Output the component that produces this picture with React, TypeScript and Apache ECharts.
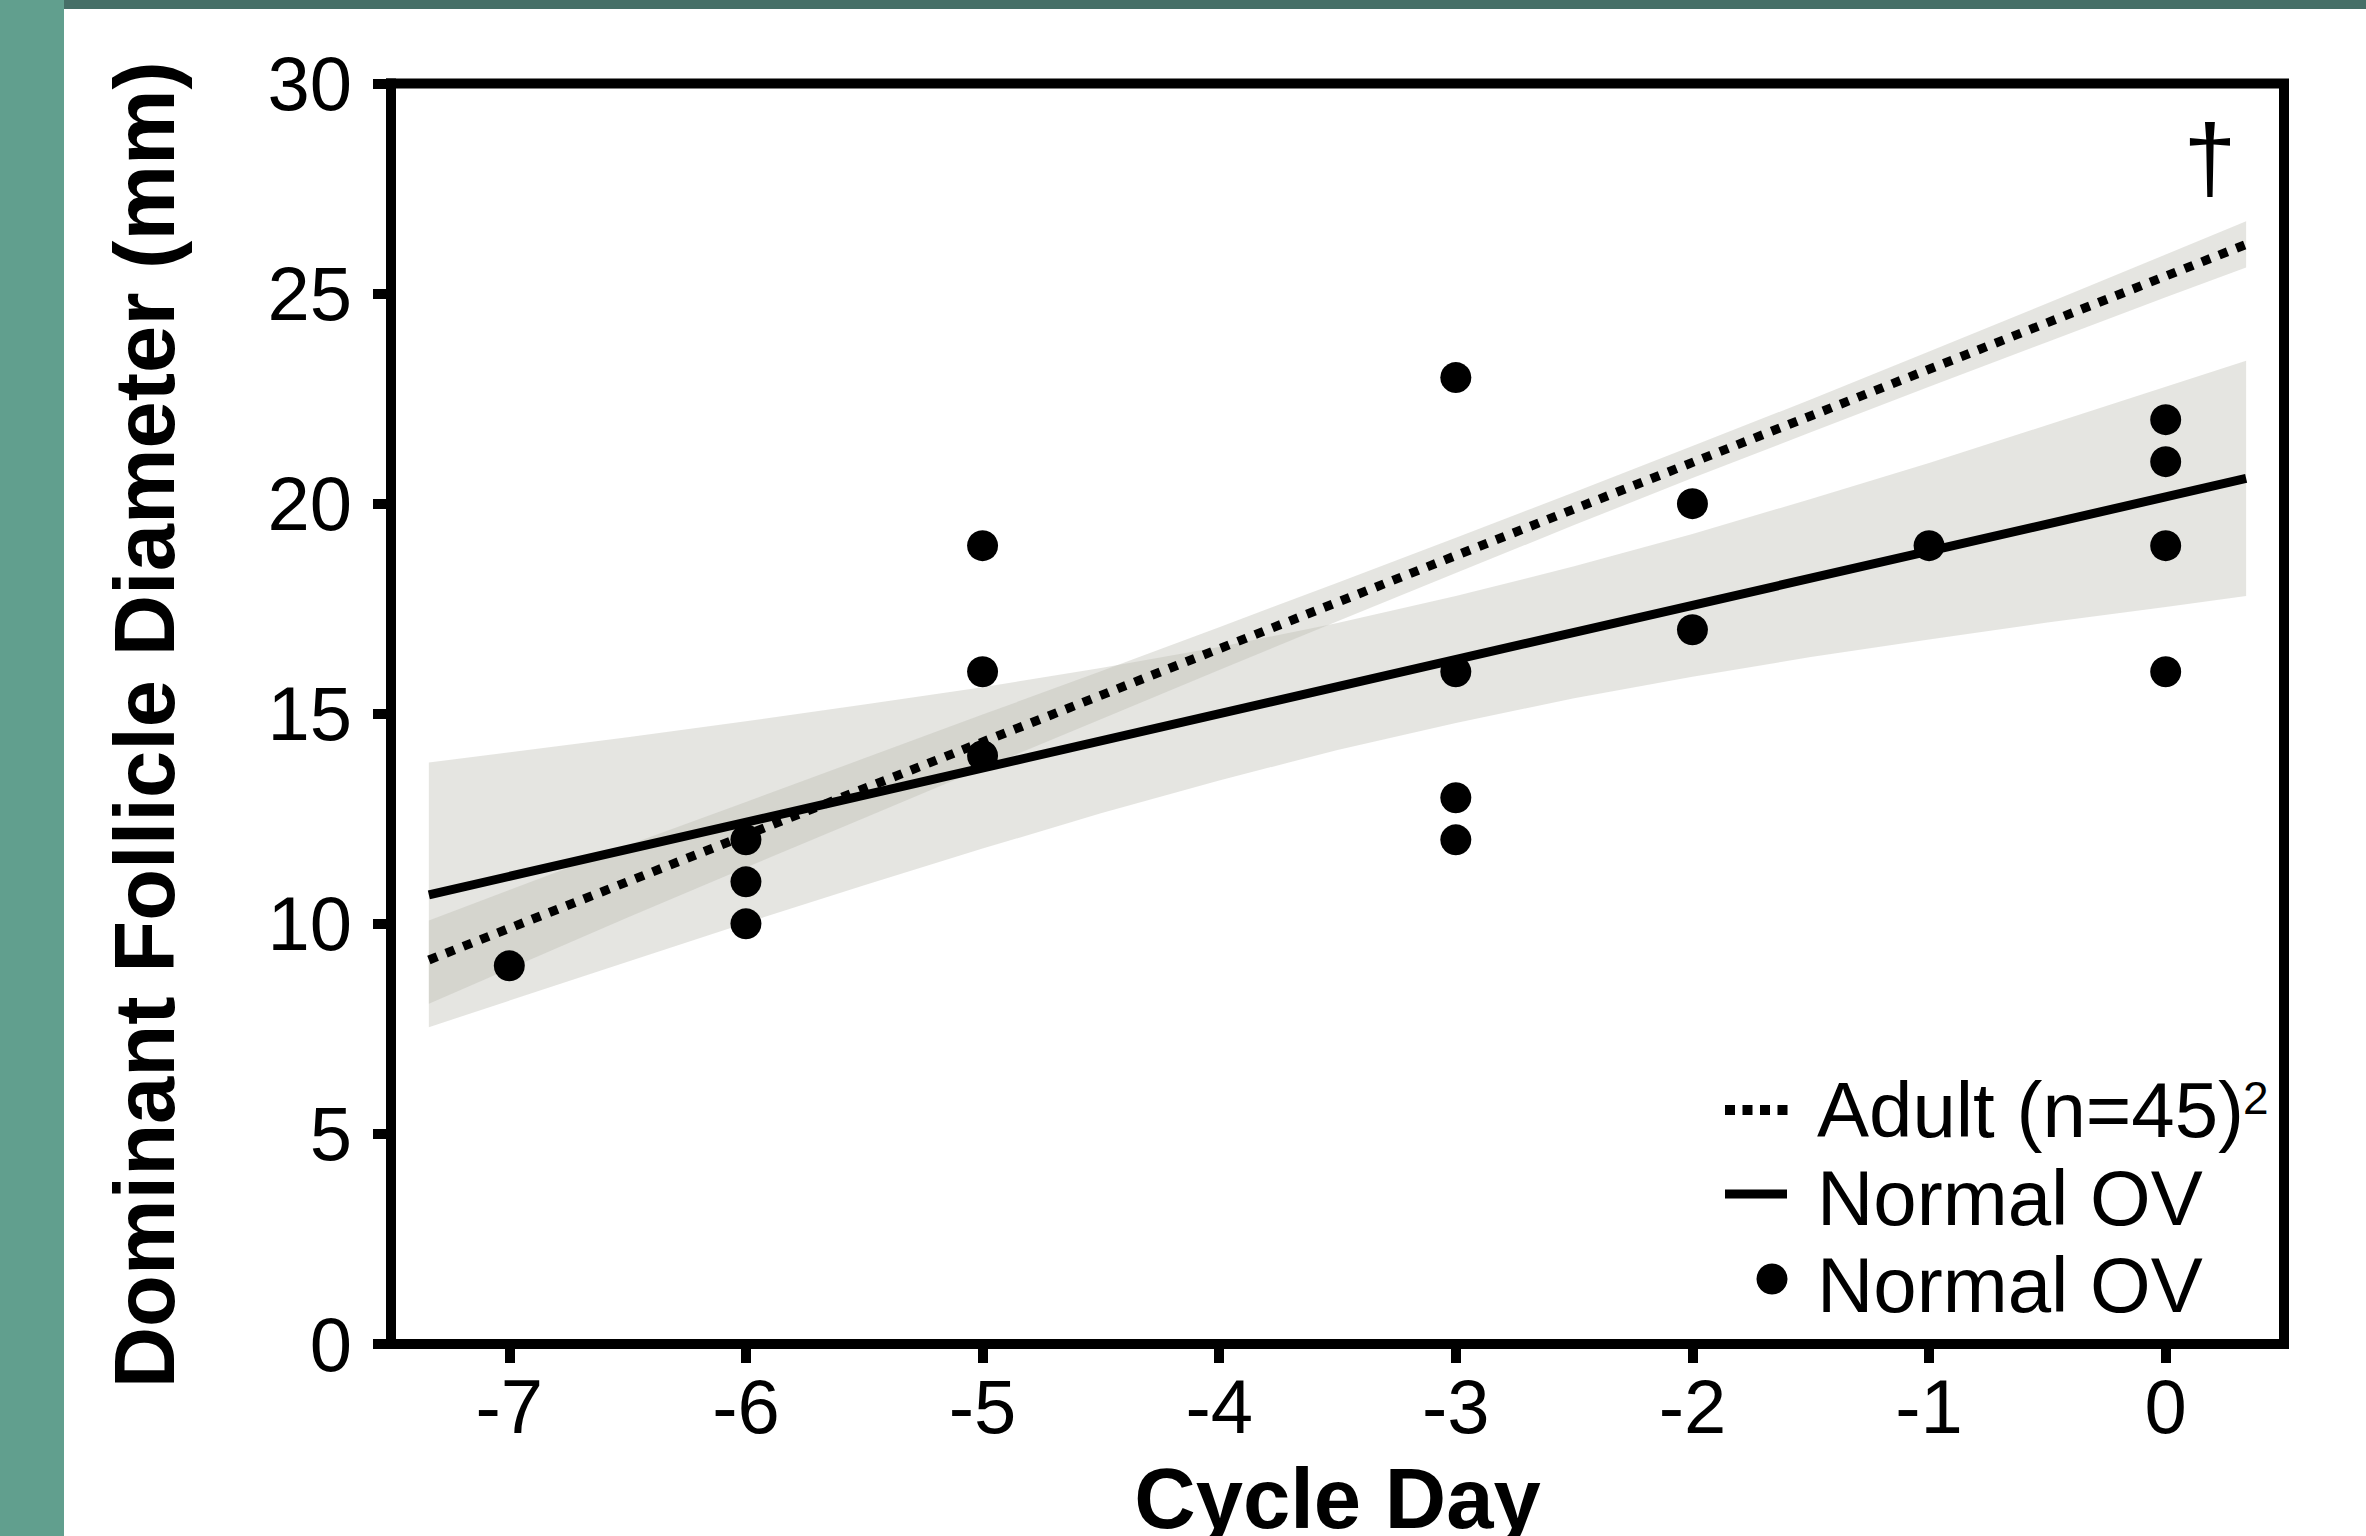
import React, { useEffect, useRef } from 'react';
import * as echarts from 'echarts';

// ---------- data ----------
const xTicks = [-7, -6, -5, -4, -3, -2, -1, 0];
const yTicks = [0, 5, 10, 15, 20, 25, 30];

const pointDays = [-7, -6, -6, -6, -5, -5, -5, -3, -3, -3, -3, -2, -2, -1, 0, 0, 0, 0];
const pointDiameters = [9, 12, 11, 10, 19, 16, 14, 23, 16, 13, 12, 20, 17, 19, 22, 21, 19, 16];

const fitDays = [-7.34, 0.34];
const normalFit = [10.69, 20.6];
const adultFit = [9.14, 26.17];

const bandDays = [-7.34, -6.5, -6, -5.5, -5, -4.5, -4, -3.5, -3, -2.5, -2, -1.5, -1, -0.5, 0, 0.34];
const normalLower = [7.54, 9.1, 10.02, 10.92, 11.79, 12.63, 13.41, 14.14, 14.78, 15.37, 15.88, 16.35, 16.77, 17.17, 17.54, 17.8];
const normalUpper = [13.84, 14.44, 14.82, 15.22, 15.63, 16.09, 16.59, 17.16, 17.8, 18.51, 19.28, 20.11, 20.97, 21.87, 22.78, 23.4];
const adultLower = [8.1, 10.15, 11.34, 12.52, 13.7, 14.87, 16.04, 17.2, 18.35, 19.49, 20.61, 21.7, 22.78, 23.85, 24.91, 25.62];
const adultUpper = [10.08, 11.87, 12.9, 13.94, 14.98, 16.01, 17.06, 18.12, 19.19, 20.27, 21.37, 22.48, 23.62, 24.77, 25.93, 26.72];

const FONT = "'Liberation Sans', Arial, Helvetica, sans-serif";
const BAND_FILL = 'rgba(188,188,177,0.385)';

function bandSeries(name: string, lower: number[], upper: number[]) {
  const rows = bandDays.map((d, i) => [d, lower[i], upper[i]]);
  return {
    type: 'custom',
    name,
    data: rows,
    encode: { x: 0, y: [1, 2] },
    silent: true,
    z: 1,
    renderItem: (params: any, api: any) => {
      if (params.dataIndex !== 0) return null;
      const top = rows.map((r) => api.coord([r[0], r[2]]));
      const bottom = rows.map((r) => api.coord([r[0], r[1]])).reverse();
      return {
        type: 'polygon',
        shape: { points: top.concat(bottom) },
        style: { fill: BAND_FILL },
      };
    },
  };
}

export default function App() {
  const ref = useRef<HTMLDivElement>(null);

  useEffect(() => {
    if (!ref.current) return;
    const chart = echarts.init(ref.current, undefined, { renderer: 'svg' });

    const legendText = (t: string, x: number, y: number) => ({
      type: 'text',
      x,
      y,
      style: {
        text: t,
        fontSize: 78,
        fontFamily: FONT,
        fill: '#000',
        align: 'left',
        verticalAlign: 'middle',
        textAlign: 'left',
        textVerticalAlign: 'middle',
      },
    });

    const axisLine = { show: true, onZero: false, lineStyle: { color: '#000', width: 10, cap: 'square' } };

    const option: any = {
      animation: false,
      backgroundColor: '#fff',
      textStyle: { fontFamily: FONT },
      grid: {
        left: 391,
        top: 83.5,
        width: 1893,
        height: 1260.5,
        containLabel: false,
        outerBoundsMode: 'none',
        show: true,
        borderColor: '#000',
        borderWidth: 10,
        backgroundColor: 'transparent',
      },
      xAxis: {
        type: 'value',
        min: -7.5,
        max: 0.5,
        axisLine,
        splitLine: { show: false },
        axisTick: {
          show: true,
          inside: false,
          customValues: xTicks,
          length: 19,
          lineStyle: { color: '#000', width: 10 },
        },
        axisLabel: {
          customValues: xTicks,
          margin: 24,
          fontSize: 76,
          color: '#000',
          fontFamily: FONT,
        },
        name: 'Cycle Day',
        nameLocation: 'middle',
        nameGap: 112,
        nameTextStyle: { fontSize: 85, fontWeight: 'bold', color: '#000', fontFamily: FONT },
      },
      yAxis: {
        type: 'value',
        min: 0,
        max: 30,
        interval: 5,
        axisLine,
        splitLine: { show: false },
        axisTick: {
          show: true,
          inside: false,
          customValues: yTicks,
          length: 18,
          lineStyle: { color: '#000', width: 10 },
        },
        axisLabel: {
          customValues: yTicks,
          margin: 39,
          fontSize: 76,
          color: '#000',
          fontFamily: FONT,
          padding: [0, 0, 27, 0],
        },
        name: 'Dominant Follicle Diameter (mm)',
        nameLocation: 'middle',
        nameGap: 204,
        nameTextStyle: {
          fontSize: 85,
          fontWeight: 'bold',
          color: '#000',
          fontFamily: FONT,
          padding: [0, 22, 0, 0],
        },
      },
      series: [
        bandSeries('Normal OV band', normalLower, normalUpper),
        bandSeries('Adult band', adultLower, adultUpper),
        {
          type: 'line',
          name: 'Normal OV',
          data: fitDays.map((d, i) => [d, normalFit[i]]),
          symbol: 'none',
          z: 3,
          lineStyle: { color: '#000', width: 9, cap: 'butt' },
        },
        {
          type: 'line',
          name: 'Adult (n=45)',
          data: fitDays.map((d, i) => [d, adultFit[i]]),
          symbol: 'none',
          z: 3,
          lineStyle: { color: '#000', width: 9, type: [9, 9.5], cap: 'butt' },
        },
        {
          type: 'scatter',
          name: 'Normal OV points',
          data: pointDays.map((d, i) => [d, pointDiameters[i]]),
          symbol: 'circle',
          symbolSize: 31,
          z: 4,
          itemStyle: { color: '#000', opacity: 1 },
        },
      ],
      graphic: [
        { type: 'rect', shape: { x: 0, y: 0, width: 64, height: 1536 }, style: { fill: '#619f8e' }, z: -10, silent: true },
        { type: 'rect', shape: { x: 64, y: 0, width: 2302, height: 9 }, style: { fill: '#466f67' }, z: -10, silent: true },
        {
          type: 'text',
          x: 2210,
          y: 158,
          style: {
            text: '†',
            fontSize: 95,
            fontFamily: FONT,
            fill: '#000',
            align: 'center',
            verticalAlign: 'middle',
            textAlign: 'center',
            textVerticalAlign: 'middle',
          },
        },
        // legend
        {
          type: 'line',
          shape: { x1: 1725, y1: 1110, x2: 1787.5, y2: 1110 },
          style: { stroke: '#000', lineWidth: 10, lineDash: [10, 7.5], lineCap: 'butt' },
        },
        legendText('Adult (n=45)', 1817, 1110),
        {
          type: 'text',
          x: 2243,
          y: 1098,
          style: {
            text: '2',
            fontSize: 46,
            fontFamily: FONT,
            fill: '#000',
            align: 'left',
            verticalAlign: 'middle',
            textAlign: 'left',
            textVerticalAlign: 'middle',
          },
        },
        {
          type: 'line',
          shape: { x1: 1725, y1: 1194, x2: 1787, y2: 1194 },
          style: { stroke: '#000', lineWidth: 9, lineCap: 'butt' },
        },
        legendText('Normal OV', 1817, 1198),
        { type: 'circle', shape: { cx: 1772, cy: 1279, r: 15.5 }, style: { fill: '#000' } },
        legendText('Normal OV', 1817, 1285),
      ],
    };

    chart.setOption(option);
    return () => chart.dispose();
  }, []);

  return (
    <div
      ref={ref}
      style={{ position: 'fixed', left: 0, top: 0, width: 2366, height: 1536, background: '#fff' }}
    />
  );
}
